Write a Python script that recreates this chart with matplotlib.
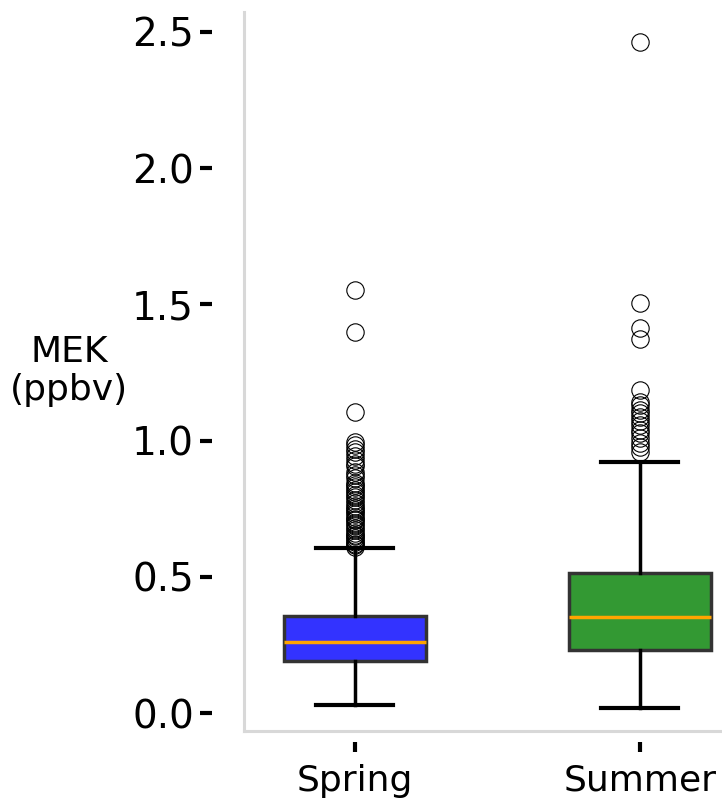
import matplotlib
matplotlib.use("Agg")
import matplotlib.pyplot as plt
from matplotlib.lines import Line2D

categories = ["Spring", "Summer"]
colors = ["#3333ff", "#339933"]
q1 = [0.191, 0.231]
med = [0.261, 0.352]
q3 = [0.356, 0.514]
whislo = [0.029, 0.018]
whishi = [0.606, 0.921]
fliers_spring = [1.553, 1.399, 1.105, 0.995, 0.984, 0.970, 0.958, 0.945, 0.929, 0.915,
                 0.905, 0.885, 0.873, 0.863, 0.845, 0.838, 0.830, 0.820, 0.810, 0.800,
                 0.793, 0.781, 0.771, 0.760, 0.752, 0.745, 0.737, 0.730, 0.720, 0.713,
                 0.708, 0.697, 0.690, 0.680, 0.672, 0.661, 0.655, 0.648, 0.641, 0.635,
                 0.628, 0.622, 0.615, 0.609]
fliers_summer = [2.463, 1.505, 1.413, 1.373, 1.186, 1.142, 1.131, 1.112, 1.100, 1.087,
                 1.070, 1.057, 1.040, 1.028, 1.010, 0.991, 0.975, 0.958]
yticks = [0.0, 0.5, 1.0, 1.5, 2.0, 2.5]
ylabel = "MEK\n(ppbv)"

fig = plt.figure(figsize=(7.22, 7.99), dpi=100)
ax = fig.add_axes([244/722, 1-731/799, 1-244/722, (731-12)/799])

stats = []
for i, c in enumerate(categories):
    stats.append(dict(label=c, q1=q1[i], med=med[i], q3=q3[i], whislo=whislo[i],
                      whishi=whishi[i], fliers=[fliers_spring, fliers_summer][i]))

bp = ax.bxp(stats, positions=[0, 1], widths=0.5, patch_artist=True,
            boxprops=dict(edgecolor="#333333", linewidth=2.5),
            medianprops=dict(color="orange", linewidth=2.5),
            whiskerprops=dict(color="black", linewidth=2.5),
            capprops=dict(color="black", linewidth=3),
            capwidths=0.27,
            flierprops=dict(marker="o", markerfacecolor="none", markeredgecolor="black",
                            markersize=12.5, markeredgewidth=0.8))
for patch, col in zip(bp["boxes"], colors):
    patch.set_facecolor(col)

ax.set_xlim(-0.389, 1.288)
ax.set_ylim(-0.066, 2.573)
ax.set_yticks(yticks)
ax.set_yticklabels([f"{v:.1f}" for v in yticks])
ax.set_xticks([0, 1])
ax.set_xticklabels(categories)

for s in ax.spines.values():
    s.set_visible(False)
ax.spines["left"].set_position(("outward", 23))
ax.spines["bottom"].set_position(("outward", 8))
ax.tick_params(axis="y", length=9, width=3, direction="out", pad=4, labelsize=28)
ax.tick_params(axis="x", length=7.5, width=3, direction="out", pad=8, labelsize=26)

ax.add_line(Line2D([0, 0], [0, 1], transform=ax.transAxes, color="#d8d8d8", lw=2.2, clip_on=False))
ax.add_line(Line2D([0, 1], [0, 0], transform=ax.transAxes, color="#d8d8d8", lw=2.2, clip_on=False))

fig.text(69/722, 1-371/799, ylabel, ha="center", va="center", fontsize=26, linespacing=1.15)

fig.savefig("out.png", dpi=100)
